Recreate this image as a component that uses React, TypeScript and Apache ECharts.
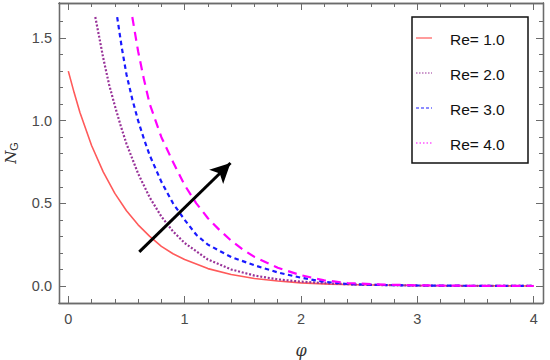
import React, { useEffect, useRef } from "react";
import * as echarts from "echarts";

// ---- data ----
const re1X = [0, 0.05, 0.1, 0.15, 0.2, 0.3, 0.4, 0.5, 0.6, 0.7, 0.8, 0.9, 1.0, 1.2, 1.4, 1.6, 1.8, 2.0, 2.25, 2.5, 3.0, 3.5, 4.0];
const re1Y = [1.3, 1.17, 1.05, 0.95, 0.85, 0.69, 0.56, 0.455, 0.37, 0.3, 0.24, 0.195, 0.16, 0.105, 0.069, 0.045, 0.03, 0.019, 0.011, 0.007, 0.003, 0.001, 0];

const re2X = [0.232, 0.27, 0.3, 0.35, 0.4, 0.45, 0.5, 0.6, 0.7, 0.8, 0.9, 1.0, 1.2, 1.4, 1.6, 1.8, 2.0, 2.25, 2.5, 3.0, 3.5, 4.0];
const re2Y = [1.627, 1.49, 1.38, 1.22, 1.09, 0.97, 0.86, 0.68, 0.535, 0.42, 0.33, 0.26, 0.16, 0.1, 0.063, 0.04, 0.026, 0.015, 0.008, 0.002, 0.0005, 0];

const re3X = [0.42, 0.46, 0.5, 0.55, 0.6, 0.65, 0.7, 0.8, 0.9, 1.0, 1.1, 1.2, 1.4, 1.6, 1.8, 2.0, 2.2, 2.4, 2.6, 3.0, 3.5, 4.0];
const re3Y = [1.627, 1.44, 1.28, 1.13, 1.0, 0.89, 0.79, 0.63, 0.5, 0.4, 0.31, 0.25, 0.175, 0.125, 0.082, 0.05, 0.025, 0.012, 0.007, 0.003, 0.001, 0];

const re4X = [0.55, 0.6, 0.65, 0.7, 0.8, 0.9, 1.0, 1.1, 1.2, 1.3, 1.4, 1.5, 1.6, 1.8, 2.0, 2.2, 2.4, 2.6, 2.8, 3.0, 3.5, 4.0];
const re4Y = [1.627, 1.42, 1.25, 1.1, 0.9, 0.75, 0.61, 0.5, 0.41, 0.338, 0.274, 0.22, 0.176, 0.11, 0.065, 0.034, 0.018, 0.011, 0.007, 0.004, 0.001, 0];

const seriesNames = ["Re= 1.0", "Re= 2.0", "Re= 3.0", "Re= 4.0"];
const seriesColors = ["#ff5a5a", "#993399", "#1a1aff", "#ff00ff"];

const xMajorTicks = [0, 1, 2, 3, 4];
const xMinorTicks = [0.2, 0.4, 0.6, 0.8, 1.2, 1.4, 1.6, 1.8, 2.2, 2.4, 2.6, 2.8, 3.2, 3.4, 3.6, 3.8];
const yMajorTicks = [0, 0.5, 1.0, 1.5];
const yMinorTicks = [0.1, 0.2, 0.3, 0.4, 0.6, 0.7, 0.8, 0.9, 1.1, 1.2, 1.3, 1.4, 1.6];

const arrowStart = [0.61, 0.206];
const arrowEnd = [1.394, 0.744];

const X_MIN = -0.08, X_MAX = 4.08;
const Y_MIN = -0.103, Y_MAX = 1.712;

const zip = (xs: number[], ys: number[]) => xs.map((x, i) => [x, ys[i]]);

const FRAME = "#6b6b6b";
const LABEL = "#4a4a4a";
const FONT = "Liberation Sans, Arial, sans-serif";

export default function App() {
  const ref = useRef<HTMLDivElement>(null);

  useEffect(() => {
    if (!ref.current) return;
    const chart = echarts.init(ref.current, null, { renderer: "svg" });

    const axX = (grid: number, pos: "bottom" | "top", ticks: number[], len: number, labels: boolean, extra: any = {}) => ({
      type: "value",
      gridIndex: grid,
      position: pos,
      min: X_MIN,
      max: X_MAX,
      axisLine: { show: true, onZero: false, lineStyle: { color: FRAME, width: 1.3 } },
      axisTick: { show: true, inside: true, length: len, customValues: ticks, lineStyle: { color: FRAME, width: 1 } },
      axisLabel: labels
        ? { show: true, customValues: ticks, color: LABEL, fontSize: 14.5, fontFamily: FONT, margin: 8 }
        : { show: false },
      splitLine: { show: false },
      ...extra,
    });
    const axY = (grid: number, pos: "left" | "right", ticks: number[], len: number, labels: boolean, extra: any = {}) => ({
      type: "value",
      gridIndex: grid,
      position: pos,
      min: Y_MIN,
      max: Y_MAX,
      axisLine: { show: true, onZero: false, lineStyle: { color: FRAME, width: 1.3 } },
      axisTick: { show: true, inside: true, length: len, customValues: ticks, lineStyle: { color: FRAME, width: 1 } },
      axisLabel: labels
        ? {
            show: true,
            customValues: ticks,
            color: LABEL,
            fontSize: 14.5,
            fontFamily: FONT,
            margin: 7,
            formatter: (v: number) => v.toFixed(1),
          }
        : { show: false },
      splitLine: { show: false },
      ...extra,
    });

    const gridBox: any = { left: 59, right: 7, top: 3, bottom: 57, containLabel: false, outerBoundsMode: "none" };

    // legend drawn as graphic
    const legendTop = 17, legendLeft = 412, legendW = 116, legendH = 146;
    const rowY = [38, 73, 108, 143];
    const legendDash: any[] = [null, [1.5, 1.5], [3, 2], [1.5, 2]];
    const legendEls: any[] = [
      {
        type: "rect",
        shape: { x: legendLeft, y: legendTop, width: legendW, height: legendH },
        style: { fill: "#fff", stroke: "#111", lineWidth: 1.5 },
        z: 100,
      },
    ];
    seriesNames.forEach((name, i) => {
      legendEls.push({
        type: "line",
        shape: { x1: 416, y1: rowY[i], x2: 432, y2: rowY[i] },
        style: { stroke: seriesColors[i], lineWidth: 1.2, lineDash: legendDash[i] || undefined },
        z: 101,
      });
      legendEls.push({
        type: "text",
        x: 450,
        y: rowY[i] + 1,
        style: { text: name, fill: "#111", fontSize: 15.5, fontFamily: FONT, verticalAlign: "middle", align: "left" },
        z: 101,
      });
    });

    const option: any = {
      animation: false,
      backgroundColor: "#ffffff",
      grid: [gridBox, { ...gridBox }],
      xAxis: [
        axX(0, "bottom", xMajorTicks, 7, true, {
          name: "φ",
          nameLocation: "middle",
          nameGap: 39,
          nameTextStyle: { fontSize: 16, fontStyle: "italic", color: "#333", fontFamily: "DejaVu Serif, serif" },
        }),
        axX(0, "top", xMajorTicks, 7, false),
        axX(1, "bottom", xMinorTicks, 4, false),
        axX(1, "top", xMinorTicks, 4, false),
      ],
      yAxis: [
        axY(0, "left", yMajorTicks, 7, true, {
          name: "{n|N}{g|G}",
          nameLocation: "middle",
          nameRotate: 90,
          nameGap: 40,
          nameTextStyle: {
            rich: {
              n: { fontSize: 15, fontStyle: "italic", color: "#333", fontFamily: "DejaVu Serif, serif" },
              g: { fontSize: 11, color: "#333", fontFamily: FONT, verticalAlign: "bottom", padding: [6, 0, 0, 0] },
            },
          },
        }),
        axY(0, "right", yMajorTicks, 7, false),
        axY(1, "left", yMinorTicks, 4, false),
        axY(1, "right", yMinorTicks, 4, false),
      ],
      graphic: legendEls,
      series: [
        {
          name: seriesNames[0],
          type: "line",
          xAxisIndex: 0,
          yAxisIndex: 0,
          data: zip(re1X, re1Y),
          showSymbol: false,
          symbol: "none",
          lineStyle: { color: seriesColors[0], width: 1.6, type: "solid" },
          itemStyle: { color: seriesColors[0] },
          markLine: {
            silent: true,
            symbol: ["none", "arrow"],
            symbolSize: [15, 20],
            label: { show: false },
            lineStyle: { color: "#000", width: 3, type: "solid" },
            data: [[{ coord: arrowStart }, { coord: arrowEnd }]],
          },
        },
        {
          name: seriesNames[1],
          type: "line",
          xAxisIndex: 0,
          yAxisIndex: 0,
          data: zip(re2X, re2Y),
          showSymbol: false,
          symbol: "none",
          lineStyle: { color: seriesColors[1], width: 2.2, type: [2, 1.8] },
          itemStyle: { color: seriesColors[1] },
        },
        {
          name: seriesNames[2],
          type: "line",
          xAxisIndex: 0,
          yAxisIndex: 0,
          data: zip(re3X, re3Y),
          showSymbol: false,
          symbol: "none",
          lineStyle: { color: seriesColors[2], width: 2.2, type: [4.5, 3.5] },
          itemStyle: { color: seriesColors[2] },
        },
        {
          name: seriesNames[3],
          type: "line",
          xAxisIndex: 0,
          yAxisIndex: 0,
          data: zip(re4X, re4Y),
          showSymbol: false,
          symbol: "none",
          lineStyle: { color: seriesColors[3], width: 2.2, type: [9, 6] },
          itemStyle: { color: seriesColors[3] },
        },
      ],
    };

    chart.setOption(option);
    return () => chart.dispose();
  }, []);

  return <div ref={ref} style={{ width: 550, height: 360, position: "absolute", left: 0, top: 0 }} />;
}
